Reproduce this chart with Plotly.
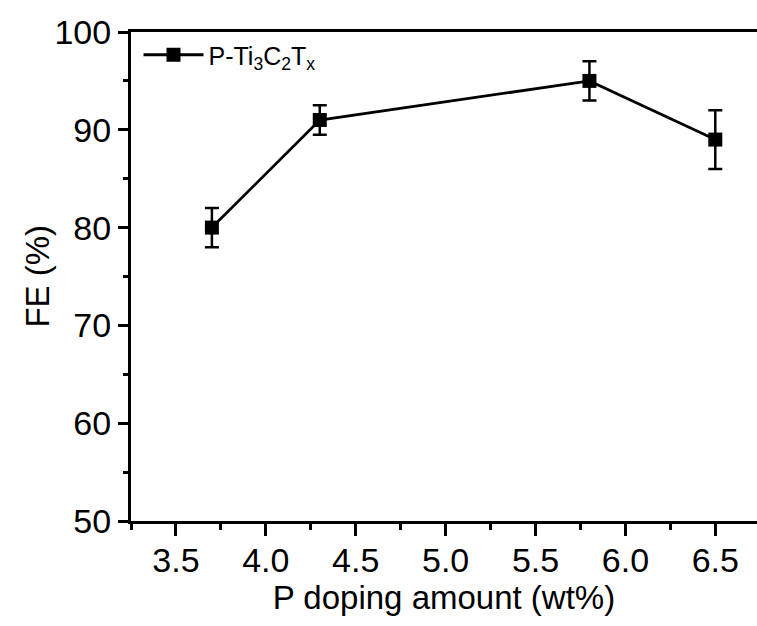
import plotly.graph_objects as go

# Data
doping = [3.7, 4.3, 5.8, 6.5]
fe = [80, 91, 95, 89]
fe_err = [2, 1.5, 2, 3]
series_name = "P-Ti<sub>3</sub>C<sub>2</sub>T<sub>x</sub>"
x_ticks = [3.5, 4.0, 4.5, 5.0, 5.5, 6.0, 6.5]
y_ticks = [50, 60, 70, 80, 90, 100]

FONT = "Liberation Sans, Arial, sans-serif"

fig = go.Figure()
fig.add_trace(go.Scatter(
    x=doping, y=fe, name=series_name, mode="lines+markers",
    line=dict(color="black", width=2.8),
    marker=dict(symbol="square", size=14, color="black"),
    error_y=dict(type="data", array=fe_err, visible=True,
                 color="black", thickness=2.5, width=7),
    showlegend=True,
))

fig.update_layout(
    width=757, height=626,
    margin=dict(l=131, r=0, t=32, b=105),
    paper_bgcolor="white", plot_bgcolor="white",
    font=dict(family=FONT, color="black", size=33),
    showlegend=True,
    legend=dict(x=0.012, y=1.0, xanchor="left", yanchor="top",
                bgcolor="rgba(0,0,0,0)", font=dict(size=25),
                itemwidth=60),
    xaxis=dict(
        range=[3.25, 6.732], tickvals=x_ticks,
        ticktext=[f"{v:.1f}" for v in x_ticks],
        showgrid=False, zeroline=False,
        showline=True, linecolor="black", linewidth=3, mirror=True,
        ticks="outside", ticklen=12, tickwidth=3, tickcolor="black",
        minor=dict(dtick=0.25, tick0=3.25, ticks="outside", ticklen=6,
                   tickwidth=3, tickcolor="black", showgrid=False),
        title=dict(text="P doping amount (wt%)", font=dict(size=33), standoff=4),
        tickfont=dict(size=34),
        ticklabelstandoff=-5,
    ),
    yaxis=dict(
        range=[50, 100], tickvals=y_ticks,
        showgrid=False, zeroline=False,
        showline=True, linecolor="black", linewidth=3, mirror=False,
        ticks="outside", ticklen=10, tickwidth=3, tickcolor="black",
        minor=dict(dtick=5, tick0=50, ticks="outside", ticklen=5,
                   tickwidth=3, tickcolor="black", showgrid=False),
        tickfont=dict(size=34),
    ),
    annotations=[dict(
        text="FE (%)", textangle=-90, showarrow=False,
        xref="paper", yref="paper", x=-0.150, y=0.5,
        xanchor="center", yanchor="middle",
        font=dict(size=33, family=FONT, color="black"),
    )],
)

fig.write_html("out.html")
